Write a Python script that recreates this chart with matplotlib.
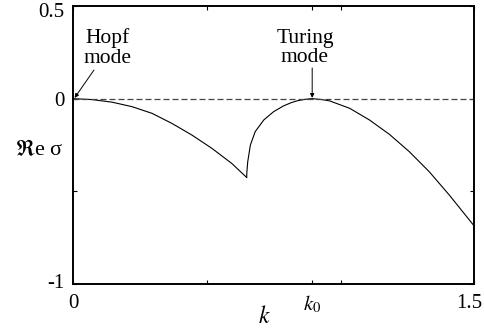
"""Dispersion relation: Hopf and Turing modes"""
import matplotlib
matplotlib.use("Agg")
import matplotlib.pyplot as plt
from matplotlib.transforms import ScaledTranslation

plt.rcParams["font.family"] = ["Liberation Serif", "DejaVu Serif"]
plt.rcParams["mathtext.fontset"] = "stix"

# Hopf branch
k_hopf = [0.0, 0.071, 0.146, 0.220, 0.295, 0.369, 0.444, 0.519, 0.593, 0.649]
s_hopf = [0.0, -0.005, -0.019, -0.043, -0.079, -0.133, -0.196, -0.268, -0.349, -0.425]

# Turing branch
k_tur = [0.649, 0.650, 0.653, 0.663, 0.681, 0.713, 0.750, 0.787, 0.815, 0.837, 0.865,
         0.894, 0.925, 0.959, 1.034, 1.108, 1.183, 1.257, 1.332, 1.407, 1.5]
s_tur = [-0.425, -0.395, -0.341, -0.250, -0.178, -0.115, -0.070, -0.039, -0.022, -0.012,
         -0.004, 0.0, -0.004, -0.012, -0.052, -0.115, -0.193, -0.286, -0.395, -0.521, -0.688]

k0 = 0.894
x_ticks = [0, 0.5, k0, 1.0, 1.5]
x_labels = ["0", "", "$k_0$", "", "1.5"]
y_ticks = [0.5, 0, -0.5, -1]
y_labels = ["0.5", "0", "", "-1"]

fig = plt.figure(figsize=(4.85, 3.29), dpi=100)
ax = fig.add_axes([0.1505, 0.1368, 0.8275, 0.845])

ax.plot(k_hopf, s_hopf, color="black", linewidth=0.8)
ax.plot(k_tur, s_tur, color="black", linewidth=0.8)
ax.axhline(0, color="#444444", linewidth=0.9, dashes=(4.8, 2.4))

ax.set_xlim(0, 1.5)
ax.set_ylim(-1, 0.5)
ax.set_xticks(x_ticks)
ax.set_xticklabels(x_labels)
ax.set_yticks(y_ticks)
ax.set_yticklabels(y_labels)
ax.tick_params(direction="in", length=3, width=0.8, labelsize=15,
               top=True, right=True)
ax.tick_params(axis="x", pad=7)
ax.tick_params(axis="y", pad=6)
for sp in ax.spines.values():
    sp.set_linewidth(1.4)

# nudge edge labels like the original
last = ax.get_xticklabels()[-1]
last.set_transform(last.get_transform() + ScaledTranslation(-5 / 100, 0, fig.dpi_scale_trans))
top = ax.get_yticklabels()[0]
top.set_transform(top.get_transform() + ScaledTranslation(0, -4 / 100, fig.dpi_scale_trans))
bot = ax.get_yticklabels()[-1]
bot.set_transform(bot.get_transform() + ScaledTranslation(0, 3 / 100, fig.dpi_scale_trans))

fig.text(39 / 485, 1 - 150 / 329, "$\\Re$e σ", fontsize=16, ha="center", va="center")
fig.text(264 / 485, 1 - 317 / 329, "$k$", fontsize=17, ha="center", va="center")

fig.text(108 / 485, 1 - 48 / 329, "Hopf\nmode", ha="center", va="center",
         fontsize=15.5, linespacing=1.05)
fig.text(305 / 485, 1 - 48 / 329, "Turing\nmode", ha="center", va="center",
         fontsize=15.5, linespacing=1.05)

arrow = dict(arrowstyle="-|>", color="black", lw=0.7, mutation_scale=6,
             shrinkA=0, shrinkB=0)
ax.annotate("", xy=(0.006, 0.004), xytext=(94 / 485, 1 - 70 / 329),
            textcoords="figure fraction", arrowprops=arrow)
ax.annotate("", xy=(k0, 0.004), xytext=(k0, 1 - 68 / 329),
            textcoords=("data", "figure fraction"), arrowprops=arrow)

fig.savefig("out.png", dpi=100)
